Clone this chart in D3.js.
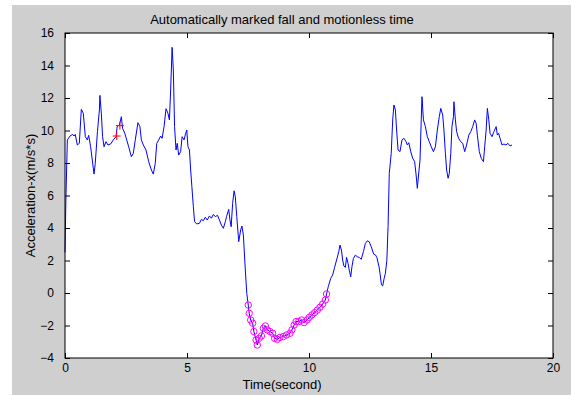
<!DOCTYPE html>
<html>
<head>
<meta charset="utf-8">
<script src="https://cdn.jsdelivr.net/npm/d3@7"></script>
<style>
  body { margin: 0; background: #fff; }
  svg text { font-family: "Liberation Sans", Arial, sans-serif; }
</style>
</head>
<body>
<div id="chart"></div>
<script>
// time (s) and acceleration samples
const time = [0, 0.04, 0.096, 0.205, 0.314, 0.369, 0.42, 0.505, 0.587, 0.669, 0.75, 0.833, 0.915, 0.97, 1.05, 1.19, 1.24, 1.33, 1.41, 1.43, 1.49, 1.54, 1.60, 1.68, 1.76, 1.87, 1.98, 2.09, 2.14, 2.23, 2.31, 2.36, 2.45, 2.53, 2.61, 2.72, 2.80, 2.88, 2.99, 3.07, 3.13, 3.21, 3.32, 3.43, 3.54, 3.62, 3.70, 3.76, 3.84, 3.92, 3.98, 4.06, 4.14, 4.22, 4.28, 4.33, 4.39, 4.44, 4.49, 4.55, 4.60, 4.66, 4.74, 4.80, 4.88, 4.93, 4.99, 5.04, 5.10, 5.15, 5.20, 5.26, 5.31, 5.40, 5.51, 5.59, 5.67, 5.75, 5.83, 5.92, 6.00, 6.08, 6.16, 6.25, 6.33, 6.41, 6.49, 6.57, 6.62, 6.71, 6.76, 6.81, 6.87, 6.93, 6.98, 7.04, 7.12, 7.20, 7.25, 7.31, 7.39, 7.45,
  7.51, 7.55, 7.61, 7.69, 7.74, 7.83, 7.88, 7.96, 8.05, 8.13, 8.21, 8.29, 8.40, 8.51, 8.59, 8.70, 8.81, 8.95, 9.08, 9.22, 9.30, 9.39, 9.47, 9.58, 9.69, 9.80, 9.92, 10.01, 10.12, 10.23, 10.34, 10.45, 10.56, 10.67, 10.72,
  10.79, 10.89, 10.97, 11.05, 11.13, 11.22, 11.27, 11.33, 11.38, 11.43, 11.49, 11.54, 11.60, 11.65, 11.71, 11.76, 11.82, 11.90, 11.98, 12.06, 12.14, 12.23, 12.31, 12.39, 12.47, 12.55, 12.65, 12.73, 12.78, 12.87, 12.91, 12.97, 13.02, 13.08, 13.13, 13.19, 13.24, 13.29, 13.37, 13.43, 13.48, 13.54, 13.59, 13.65, 13.73, 13.81, 13.89, 13.98, 14.03, 14.09, 14.17, 14.25, 14.33, 14.39, 14.44, 14.49, 14.55, 14.60, 14.63, 14.69, 14.77, 14.85, 14.93, 15.01, 15.10, 15.18, 15.26, 15.34, 15.40, 15.48, 15.53, 15.59, 15.64, 15.70, 15.75, 15.81, 15.86, 15.92, 15.94, 16.00, 16.05, 16.13, 16.22, 16.30, 16.38, 16.46, 16.55, 16.63, 16.71, 16.79, 16.85, 16.90, 16.98, 17.06, 17.15, 17.20, 17.26, 17.31, 17.37, 17.42, 17.50, 17.58, 17.67, 17.72, 17.77, 17.83, 17.91, 17.99, 18.07, 18.15, 18.24, 18.32];
const accel = [2.5, 6.0, 9.42, 9.66, 9.76, 9.66, 9.76, 9.11, 9.21, 11.30, 11.06, 9.62, 9.42, 9.70, 9.0, 7.32, 7.98, 9.93, 11.26, 12.16, 11.06, 9.62, 9.0, 9.31, 9.11, 9.17, 9.42, 9.62, 10.24, 10.34, 10.85, 10.13, 9.83, 9.42, 9.0, 8.39, 8.59, 9.42, 10.48, 10.24, 9.42, 9.11, 8.80, 8.08, 7.57, 7.32, 7.98, 9.21, 9.42, 9.66, 9.52, 10.24, 11.34, 11.06, 10.65, 12.49, 15.12, 13.72, 10.24, 8.80, 9.21, 8.49, 8.70, 9.62, 9.42, 9.73, 10.03, 9.0, 8.80, 7.57, 6.54, 5.31, 4.39, 4.25, 4.29, 4.53, 4.45, 4.66, 4.49, 4.74, 4.60, 4.84, 4.70, 4.78, 4.49, 4.18, 3.98, 4.39, 4.70, 5.15, 4.49, 4.08, 5.52, 6.29, 5.93, 4.70, 3.16, 3.88, 4.12, 3.57, 1.42, -0.02,
  -0.74, -1.25, -1.66, -1.86, -2.37, -2.89, -3.2, -2.79, -2.64, -2.17, -2.03, -2.27, -2.37, -2.48, -2.79, -2.85, -2.73, -2.68, -2.58, -2.48, -2.27, -1.97, -1.76, -1.76, -1.66, -1.82, -1.66, -1.50, -1.35, -1.21, -1.05, -0.88, -0.68, -0.43, -0.06,
  0.39, 0.90, 1.11, 1.58, 2.03, 2.54, 2.95, 2.64, 2.03, 1.66, 1.58, 2.19, 1.82, 1.41, 1.0, 1.62, 2.13, 2.33, 2.23, 2.19, 2.07, 2.54, 3.05, 3.21, 3.15, 2.85, 2.40, 2.33, 2.19, 1.62, 1.21, 0.50, 0.43, 0.90, 1.21, 2.0, 4.08, 7.36, 8.59, 10.65, 11.57, 11.26, 10.03, 8.80, 8.70, 9.42, 9.52, 9.31, 9.11, 9.25, 8.70, 8.29, 8.08, 7.26, 6.44, 7.26, 8.18, 10.65, 12.08, 10.65, 10.24, 9.62, 9.31, 9.0, 8.70, 9.0, 10.03, 10.85, 11.36, 10.95, 10.03, 8.59, 7.57, 7.06, 7.36, 8.59, 10.24, 10.85, 11.77, 10.65, 9.93, 9.52, 9.31, 9.21, 8.70, 9.11, 9.72, 9.93, 10.24, 10.65, 10.44, 9.72, 8.70, 8.29, 8.08, 9.0, 10.03, 11.36, 10.65, 9.83, 9.62, 9.93, 10.24, 9.72, 9.83, 9.52, 9.11, 9.17, 9.11, 9.21, 9.05, 9.11];

// automatically marked fall points (red +)
const fallT = [2.12, 2.25];
const fallV = [9.66, 10.3];
// motionless interval (magenta o)
const stillStart = 7.5;
const stillEnd = 10.75;

const xTicks = [0, 5, 10, 15, 20];
const yTicks = [-4, -2, 0, 2, 4, 6, 8, 10, 12, 14, 16];

const width = 571, height = 396;
const margin = { top: 33, right: 18, bottom: 38, left: 65 };

const svg = d3.select('#chart').append('svg')
  .attr('width', width)
  .attr('height', height);

// figure background
svg.append('rect')
  .attr('x', 12).attr('y', 5)
  .attr('width', width - 12).attr('height', height - 6)
  .attr('fill', '#cfcfcf');

const x = d3.scaleLinear().domain([0, 20]).range([margin.left, width - margin.right]);
const y = d3.scaleLinear().domain([-4, 16]).range([height - margin.bottom, margin.top]);

svg.append('rect')
  .attr('x', x(0)).attr('y', y(16))
  .attr('width', x(20) - x(0)).attr('height', y(-4) - y(16))
  .attr('fill', '#fff');

const data = time.map((t, i) => ({ t, v: accel[i] }));

const line = d3.line()
  .x(d => x(d.t))
  .y(d => y(d.v));

svg.append('path')
  .datum(data)
  .attr('fill', 'none')
  .attr('stroke', '#0000ff')
  .attr('stroke-width', 1)
  .attr('d', line);

svg.append('g')
  .selectAll('circle')
  .data(data.filter(d => d.t >= stillStart && d.t <= stillEnd))
  .join('circle')
  .attr('cx', d => x(d.t))
  .attr('cy', d => y(d.v))
  .attr('r', 3.2)
  .attr('fill', 'none')
  .attr('stroke', '#ff00ff')
  .attr('stroke-width', 1);

const plus = svg.append('g');
fallT.forEach((t, i) => {
  plus.append('path')
    .attr('d', `M${x(t) - 4},${y(fallV[i])}h8M${x(t)},${y(fallV[i]) - 4}v8`)
    .attr('stroke', '#ff0000')
    .attr('stroke-width', 1);
});

// axes (ticks pointing inward, MATLAB box)
const styleAxis = g => {
  g.select('.domain').remove();
  g.selectAll('line').attr('stroke', '#000');
  g.selectAll('text').attr('fill', '#000').style('font-size', '12px');
};

svg.append('g')
  .attr('transform', `translate(0,${y(-4)})`)
  .call(d3.axisBottom(x).tickValues(xTicks).tickSizeInner(-5).tickSizeOuter(0).tickPadding(5))
  .call(styleAxis);

svg.append('g')
  .attr('transform', `translate(0,${y(16)})`)
  .call(d3.axisTop(x).tickValues(xTicks).tickSizeInner(-5).tickSizeOuter(0).tickFormat(''))
  .call(styleAxis);

svg.append('g')
  .attr('transform', `translate(${x(0)},0)`)
  .call(d3.axisLeft(y).tickValues(yTicks).tickSizeInner(-5).tickSizeOuter(0).tickPadding(11))
  .call(styleAxis);

svg.append('g')
  .attr('transform', `translate(${x(20)},0)`)
  .call(d3.axisRight(y).tickValues(yTicks).tickSizeInner(-5).tickSizeOuter(0).tickFormat(''))
  .call(styleAxis);

svg.append('rect')
  .attr('x', x(0)).attr('y', y(16))
  .attr('width', x(20) - x(0)).attr('height', y(-4) - y(16))
  .attr('fill', 'none')
  .attr('stroke', '#000')
  .attr('stroke-width', 1);

svg.append('text')
  .attr('x', 282)
  .attr('y', 24)
  .attr('text-anchor', 'middle')
  .style('font-size', '13px')
  .text('Automatically marked fall and motionless time');

svg.append('text')
  .attr('x', 282)
  .attr('y', 389)
  .attr('text-anchor', 'middle')
  .style('font-size', '13px')
  .text('Time(second)');

svg.append('text')
  .attr('transform', `translate(35,${(y(16) + y(-4)) / 2}) rotate(-90)`)
  .attr('text-anchor', 'middle')
  .style('font-size', '13px')
  .text('Acceleration-x(m/s*s)');
</script>
</body>
</html>
